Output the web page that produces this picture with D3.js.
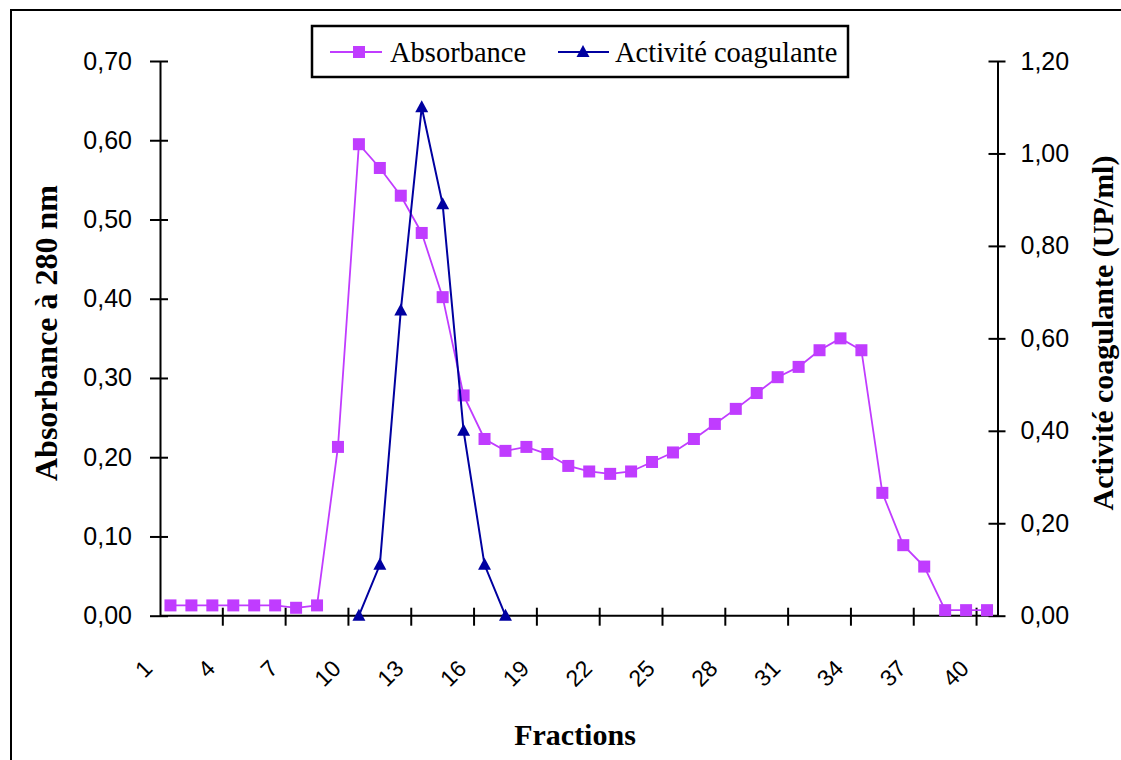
<!DOCTYPE html>
<html>
<head>
<meta charset="utf-8">
<script src="https://cdn.jsdelivr.net/npm/d3@7/dist/d3.min.js"></script>
<style>
  html, body { margin: 0; padding: 0; background: #fff; }
  svg { display: block; }
</style>
</head>
<body>
<svg id="chart" width="1121" height="760"></svg>
<script>
// ---- data ----
const fractions = [1,2,3,4,5,6,7,8,9,10,11,12,13,14,15,16,17,18,19,20,
                   21,22,23,24,25,26,27,28,29,30,31,32,33,34,35,36,37,38,39,40];
const absorbance = [0.013,0.013,0.013,0.013,0.013,0.013,0.010,0.013,0.213,0.595,
                    0.565,0.530,0.483,0.402,0.278,0.223,0.208,0.213,0.204,0.189,
                    0.182,0.179,0.182,0.194,0.206,0.223,0.242,0.261,0.281,0.301,
                    0.314,0.335,0.350,0.335,0.155,0.089,0.062,0.007,0.007,0.007];
const activite = [null,null,null,null,null,null,null,null,null,0.00,
                  0.11,0.66,1.10,0.89,0.40,0.11,0.00,null,null,null,
                  null,null,null,null,null,null,null,null,null,null,
                  null,null,null,null,null,null,null,null,null,null];
const xTickLabels = [1,4,7,10,13,16,19,22,25,28,31,34,37,40];
const yLeftTicks = [0,0.1,0.2,0.3,0.4,0.5,0.6,0.7];
const yRightTicks = [0,0.2,0.4,0.6,0.8,1.0,1.2];
const seriesNames = ["Absorbance", "Activité coagulante"];

// ---- layout ----
const svg = d3.select("#chart");
const L = 160, R = 997.5, T = 61, B = 615.7;
const cMag = "#C03CFF", cBlue = "#0000A0";
const fmt = v => d3.format(".2f")(v).replace(".", ",");

// outer frame
svg.append("rect").attr("x", 11).attr("y", 10).attr("width", 1200).attr("height", 800)
  .attr("fill", "none").attr("stroke", "#000").attr("stroke-width", 2);

const x = d3.scaleBand().domain(fractions).range([L, R]).padding(0);
const cx = d => x(d) + x.bandwidth() / 2;
const yL = d3.scaleLinear().domain([0, 0.7]).range([B, T]);
const yR = d3.scaleLinear().domain([0, 1.2]).range([B, T]);

// x axis line
svg.append("line").attr("x1", L).attr("x2", R).attr("y1", B).attr("y2", B)
  .attr("stroke", "#000").attr("stroke-width", 2);

// x ticks (crossing) at band boundaries of labelled categories
svg.append("g").selectAll("line").data(xTickLabels.filter(c => c !== 1)).join("line")
  .attr("x1", d => x(d)).attr("x2", d => x(d))
  .attr("y1", B - 8).attr("y2", B + 10)
  .attr("stroke", "#000").attr("stroke-width", 2);

// x tick labels rotated
svg.append("g").selectAll("text").data(xTickLabels).join("text")
  .attr("transform", d => `translate(${cx(d) - 16.7},670) rotate(-45)`)
  .attr("text-anchor", "end")
  .attr("font-family", "Liberation Sans, Arial, sans-serif")
  .attr("font-size", 23)
  .attr("fill", "#000")
  .text(d => d);

// left axis
const gL = svg.append("g").attr("transform", `translate(${L},0)`)
  .call(d3.axisLeft(yL).tickValues(yLeftTicks).tickSize(0).tickSizeOuter(0)
    .tickPadding(28).tickFormat(fmt));
gL.select(".domain").attr("stroke", "#000").attr("stroke-width", 2);
gL.selectAll(".tick").append("line").attr("x1", -10).attr("x2", 8)
  .attr("stroke", "#000").attr("stroke-width", 2);
gL.selectAll(".tick text").attr("font-family", "Liberation Sans, Arial, sans-serif")
  .attr("font-size", 25).attr("fill", "#000");

// right axis
const gR = svg.append("g").attr("transform", `translate(${R},0)`)
  .call(d3.axisRight(yR).tickValues(yRightTicks).tickSize(0).tickSizeOuter(0)
    .tickPadding(23).tickFormat(fmt));
gR.select(".domain").attr("stroke", "#000").attr("stroke-width", 2);
gR.selectAll(".tick").append("line").attr("x1", -9).attr("x2", 8)
  .attr("stroke", "#000").attr("stroke-width", 2);
gR.selectAll(".tick text").attr("font-family", "Liberation Sans, Arial, sans-serif")
  .attr("font-size", 25).attr("fill", "#000");

// axis titles
svg.append("text").attr("transform", `translate(57,333) rotate(-90)`)
  .attr("text-anchor", "middle").attr("font-family", "Liberation Serif, Times New Roman, serif")
  .attr("font-weight", "bold").attr("font-size", 32).text("Absorbance à 280 nm");
svg.append("text").attr("transform", `translate(1113,333) rotate(-90)`)
  .attr("text-anchor", "middle").attr("font-family", "Liberation Serif, Times New Roman, serif")
  .attr("font-weight", "bold").attr("font-size", 30).text("Activité coagulante (UP/ml)");
svg.append("text").attr("x", 575).attr("y", 744.5)
  .attr("text-anchor", "middle").attr("font-family", "Liberation Serif, Times New Roman, serif")
  .attr("font-weight", "bold").attr("font-size", 30).text("Fractions");

// series
const absData = fractions.map((f, i) => ({ f, v: absorbance[i] }));
const actData = fractions.map((f, i) => ({ f, v: activite[i] }));

svg.append("path").datum(absData)
  .attr("fill", "none").attr("stroke", cMag).attr("stroke-width", 1.8)
  .attr("d", d3.line().x(d => cx(d.f)).y(d => yL(d.v)));
svg.append("g").selectAll("rect").data(absData).join("rect")
  .attr("x", d => cx(d.f) - 6).attr("y", d => yL(d.v) - 6)
  .attr("width", 12).attr("height", 12).attr("fill", cMag);

const actDef = actData.filter(d => d.v !== null);
svg.append("path").datum(actData)
  .attr("fill", "none").attr("stroke", cBlue).attr("stroke-width", 2)
  .attr("d", d3.line().defined(d => d.v !== null).x(d => cx(d.f)).y(d => yR(d.v)));
const tri = (px, py) => `M${px},${py - 7}L${px + 6.5},${py + 5}L${px - 6.5},${py + 5}Z`;
svg.append("g").selectAll("path").data(actDef).join("path")
  .attr("d", d => tri(cx(d.f), yR(d.v))).attr("fill", cBlue);

// legend
const lg = svg.append("g");
lg.append("rect").attr("x", 312).attr("y", 26).attr("width", 536).attr("height", 51)
  .attr("fill", "#fff").attr("stroke", "#000").attr("stroke-width", 2.5);
lg.append("line").attr("x1", 330).attr("x2", 382).attr("y1", 52).attr("y2", 52)
  .attr("stroke", cMag).attr("stroke-width", 2);
lg.append("rect").attr("x", 353).attr("y", 46).attr("width", 12).attr("height", 12).attr("fill", cMag);
lg.append("text").attr("x", 390).attr("y", 61.5)
  .attr("font-family", "Liberation Serif, Times New Roman, serif").attr("font-size", 28.5)
  .text(seriesNames[0]);
lg.append("line").attr("x1", 558).attr("x2", 609).attr("y1", 52).attr("y2", 52)
  .attr("stroke", cBlue).attr("stroke-width", 2);
lg.append("path").attr("d", tri(583, 52)).attr("fill", cBlue);
lg.append("text").attr("x", 615).attr("y", 61.5)
  .attr("font-family", "Liberation Serif, Times New Roman, serif").attr("font-size", 28.5)
  .text(seriesNames[1]);
</script>
</body>
</html>
